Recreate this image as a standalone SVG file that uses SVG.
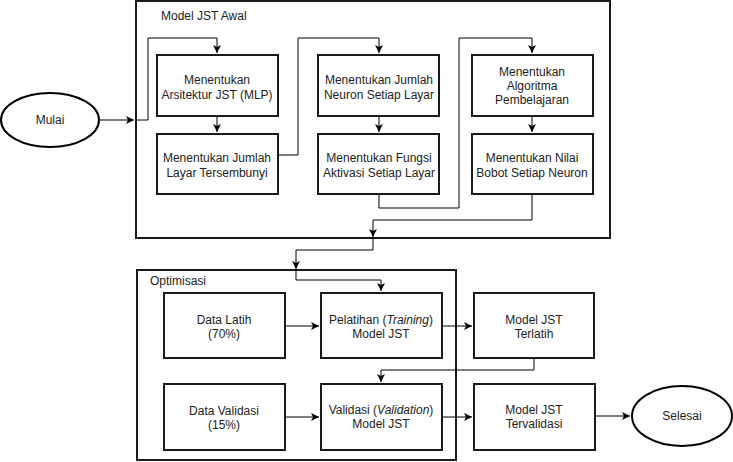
<svg xmlns="http://www.w3.org/2000/svg" width="733" height="462" viewBox="0 0 733 462">
<defs>
<marker id="ah" markerWidth="10" markerHeight="10" refX="9" refY="5" orient="auto" markerUnits="userSpaceOnUse">
<path d="M1,1 L9,5 L1,9 L3,5 Z" fill="#000"/>
</marker>
<style>
.box{fill:#fff;stroke:#1a1a1a;stroke-width:2}
.grp{fill:#fff;stroke:#1a1a1a;stroke-width:2}
.t{font-family:"Liberation Sans",Arial,sans-serif;font-size:12px;fill:#222;text-anchor:middle}
.tl{font-family:"Liberation Sans",Arial,sans-serif;font-size:12px;fill:#222}
.c{fill:none;stroke:#000;stroke-width:1}
</style>
</defs>
<rect width="733" height="462" fill="#fff"/>
<g id="grp-awal"><rect class="grp" x="136" y="1" width="474" height="237"/><text class="tl" x="161" y="20">Model JST Awal</text></g>
<g id="grp-opt"><rect class="grp" x="137" y="270" width="319" height="190"/><text class="tl" x="150" y="285">Optimisasi</text></g>
<g id="connectors">
<path class="c" d="M100,120 H134" marker-end="url(#ah)"/>
<path class="c" d="M136,120 H148 V38 H217 V53" marker-end="url(#ah)"/>
<path class="c" d="M217,116 V132" marker-end="url(#ah)"/>
<path class="c" d="M278,155 H298 V38 H379 V53" marker-end="url(#ah)"/>
<path class="c" d="M379,116 V132" marker-end="url(#ah)"/>
<path class="c" d="M379,194 V208 H459 V38 H532 V53" marker-end="url(#ah)"/>
<path class="c" d="M532,116 V132" marker-end="url(#ah)"/>
<path class="c" d="M532,194 V220 H373 V237" marker-end="url(#ah)"/>
<path class="c" d="M373,238 V250 H296 V269" marker-end="url(#ah)"/>
<path class="c" d="M296,269 V280 H381 V291" marker-end="url(#ah)"/>
<path class="c" d="M285,326 H319" marker-end="url(#ah)"/>
<path class="c" d="M442,326 H472" marker-end="url(#ah)"/>
<path class="c" d="M534,358 V370 H381 V382" marker-end="url(#ah)"/>
<path class="c" d="M285,417 H319" marker-end="url(#ah)"/>
<path class="c" d="M442,417 H472" marker-end="url(#ah)"/>
<path class="c" d="M595,416 H630" marker-end="url(#ah)"/>
</g>
<g id="mulai"><ellipse cx="50" cy="120" rx="49" ry="27" fill="#fff" stroke="#000" stroke-width="2"/><text class="t" x="50" y="124">Mulai</text></g>
<g id="n1"><rect class="box" x="157" y="55" width="121" height="61"/><text class="t" x="217" y="84">Menentukan</text><text class="t" x="217" y="99">Arsitektur JST (MLP)</text></g>
<g id="n2"><rect class="box" x="157" y="134" width="121" height="60"/><text class="t" x="217" y="162">Menentukan Jumlah</text><text class="t" x="217" y="177">Layar Tersembunyi</text></g>
<g id="n3"><rect class="box" x="318" y="55" width="121" height="61"/><text class="t" x="379" y="84">Menentukan Jumlah</text><text class="t" x="379" y="99">Neuron Setiap Layar</text></g>
<g id="n4"><rect class="box" x="318" y="134" width="121" height="60"/><text class="t" x="379" y="162">Menentukan Fungsi</text><text class="t" x="379" y="177">Aktivasi Setiap Layar</text></g>
<g id="n5"><rect class="box" x="472" y="55" width="121" height="61"/><text class="t" x="532" y="76">Menentukan</text><text class="t" x="532" y="90">Algoritma</text><text class="t" x="532" y="104">Pembelajaran</text></g>
<g id="n6"><rect class="box" x="472" y="134" width="121" height="60"/><text class="t" x="532" y="162">Menentukan Nilai</text><text class="t" x="532" y="177">Bobot Setiap Neuron</text></g>
<g id="latih"><rect class="box" x="164" y="293" width="121" height="65"/><text class="t" x="224" y="324">Data Latih</text><text class="t" x="224" y="338">(70%)</text></g>
<g id="validasi-data"><rect class="box" x="164" y="384" width="121" height="66"/><text class="t" x="224" y="415">Data Validasi</text><text class="t" x="224" y="429">(15%)</text></g>
<g id="pelatihan"><rect class="box" x="321" y="293" width="121" height="65"/><text class="t" x="381" y="324">Pelatihan (<tspan font-style="italic">Training</tspan>)</text><text class="t" x="381" y="338">Model JST</text></g>
<g id="validasi"><rect class="box" x="321" y="384" width="121" height="66"/><text class="t" x="381" y="414">Validasi (<tspan font-style="italic">Validation</tspan>)</text><text class="t" x="381" y="428">Model JST</text></g>
<g id="terlatih"><rect class="box" x="474" y="293" width="120" height="65" stroke-width="2.5"/><text class="t" x="534" y="324">Model JST</text><text class="t" x="534" y="338">Terlatih</text></g>
<g id="tervalidasi"><rect class="box" x="474" y="384" width="121" height="66"/><text class="t" x="534" y="414">Model JST</text><text class="t" x="534" y="428">Tervalidasi</text></g>
<g id="selesai"><ellipse cx="682" cy="416" rx="50" ry="30" fill="#fff" stroke="#000" stroke-width="2"/><text class="t" x="682" y="420">Selesai</text></g>
</svg>
